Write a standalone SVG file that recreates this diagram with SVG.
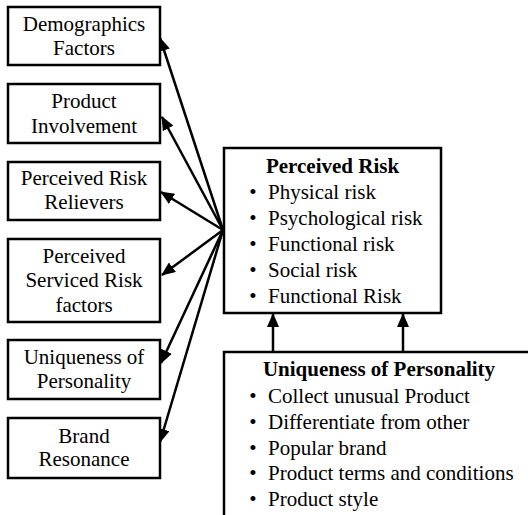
<svg xmlns="http://www.w3.org/2000/svg" width="528" height="515" viewBox="0 0 528 515">
<defs>
<style>
.box{fill:#fff;stroke:#000;stroke-width:2.5}
.t{font-family:"Liberation Serif","Times New Roman",serif;font-size:21px;fill:#000}
.c{text-anchor:middle}
.b{font-weight:bold}
.ln{stroke:#000;stroke-width:2.5;fill:none;marker-end:url(#ah)}
</style>
<marker id="ah" markerUnits="userSpaceOnUse" markerWidth="14" markerHeight="12" refX="13" refY="6" orient="auto">
<path d="M0,0 L14,6 L0,12 z" fill="#000"/>
</marker>
</defs>
<rect width="528" height="515" fill="#fff"/>
<g id="connectors">
<line class="ln" x1="223" y1="230" x2="160" y2="38"/>
<line class="ln" x1="223" y1="230" x2="162" y2="117"/>
<line class="ln" x1="223" y1="230" x2="161" y2="192"/>
<line class="ln" x1="223" y1="230" x2="162" y2="275"/>
<line class="ln" x1="223" y1="230" x2="161" y2="363"/>
<line class="ln" x1="223" y1="230" x2="160" y2="442"/>
<line class="ln" x1="273" y1="352" x2="273" y2="314"/>
<line class="ln" x1="403" y1="352" x2="403" y2="314"/>
</g>
<g id="n1"><rect class="box" x="8" y="7" width="152" height="58"/>
<text class="t c" x="84" y="31">Demographics</text><text class="t c" x="84" y="55">Factors</text></g>
<g id="n2"><rect class="box" x="8" y="84" width="152" height="59"/>
<text class="t c" x="84" y="108">Product</text><text class="t c" x="84" y="133">Involvement</text></g>
<g id="n3"><rect class="box" x="8" y="162" width="152" height="58"/>
<text class="t c" x="84" y="185">Perceived Risk</text><text class="t c" x="84" y="209">Relievers</text></g>
<g id="n4"><rect class="box" x="8" y="239" width="152" height="83"/>
<text class="t c" x="84" y="263">Perceived</text><text class="t c" x="84" y="287">Serviced Risk</text><text class="t c" x="84" y="312">factors</text></g>
<g id="n5"><rect class="box" x="8" y="340" width="152" height="59"/>
<text class="t c" x="84" y="364">Uniqueness of</text><text class="t c" x="84" y="388">Personality</text></g>
<g id="n6"><rect class="box" x="8" y="418" width="152" height="60"/>
<text class="t c" x="84" y="443">Brand</text><text class="t c" x="84" y="466">Resonance</text></g>
<g id="perceived-risk"><rect class="box" x="224" y="148" width="217" height="165"/>
<text class="t c b" x="332.5" y="173">Perceived Risk</text>
<text class="t c" x="253" y="199">•</text><text class="t" x="268" y="199">Physical risk</text>
<text class="t c" x="253" y="225">•</text><text class="t" x="268" y="225">Psychological risk</text>
<text class="t c" x="253" y="251">•</text><text class="t" x="268" y="251">Functional risk</text>
<text class="t c" x="253" y="277">•</text><text class="t" x="268" y="277">Social risk</text>
<text class="t c" x="253" y="303">•</text><text class="t" x="268" y="303">Functional Risk</text>
</g>
<g id="uniqueness"><rect class="box" x="224" y="352" width="320" height="200"/>
<text class="t c b" x="379" y="376">Uniqueness of Personality</text>
<text class="t c" x="253" y="403">•</text><text class="t" x="268" y="403">Collect unusual Product</text>
<text class="t c" x="253" y="429">•</text><text class="t" x="268" y="429">Differentiate from other</text>
<text class="t c" x="253" y="455">•</text><text class="t" x="268" y="455">Popular brand</text>
<text class="t c" x="253" y="480">•</text><text class="t" x="268" y="480">Product terms and conditions</text>
<text class="t c" x="253" y="506">•</text><text class="t" x="268" y="506">Product style</text>
</g>
</svg>
